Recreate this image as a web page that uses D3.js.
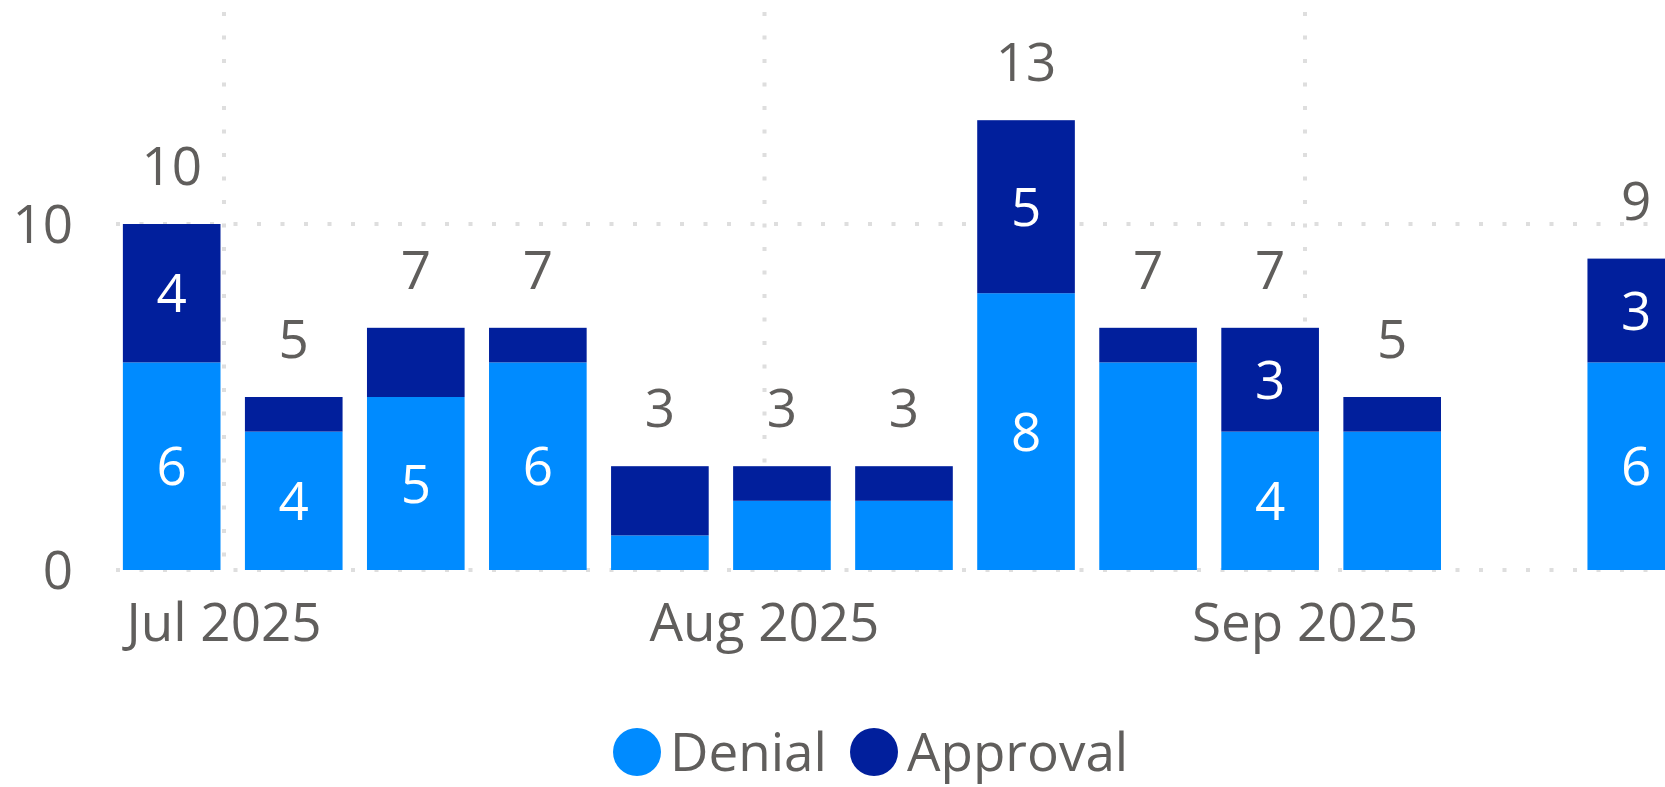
<!DOCTYPE html>
<html>
<head>
<meta charset="utf-8">
<script src="https://cdn.jsdelivr.net/npm/d3@7"></script>
<style>
    html, body { margin: 0; padding: 0; background: #fff; overflow: hidden; }
    text { font-family: "Open Sans", "Noto Sans", sans-serif; }
</style>
</head>
<body>
<div id="chart"></div>
<script>
// weekly counts, one bar per week (no data for the week of Sep 13)
const weeks = ["2025-06-28", "2025-07-05", "2025-07-12", "2025-07-19", "2025-07-26", "2025-08-02",
    "2025-08-09", "2025-08-16", "2025-08-23", "2025-08-30", "2025-09-06", "2025-09-20"];
const denial = [6, 4, 5, 6, 1, 2, 2, 8, 6, 4, 4, 6];
const approval = [4, 1, 2, 1, 2, 1, 1, 5, 1, 3, 1, 3];
const seriesNames = ["Denial", "Approval"];
const yTicks = [0, 10];
const monthTicks = ["2025-07-01", "2025-08-01", "2025-09-01"];
// segment labels Power BI dropped although they would fit
const hiddenDenialLabels = ["2025-08-23", "2025-09-06"];

const width = 1665,
    height = 787,
    colours = { Denial: "#008BFF", Approval: "#011F9C" },
    textColour = "#605E5C",
    fontSize = 53,
    parse = d3.timeParse("%Y-%m-%d");

const rows = weeks.map((w, i) => ({
    date: parse(w),
    key: w,
    Denial: denial[i],
    Approval: approval[i],
}));

const svg = d3.select("#chart").append("svg")
    .attr("width", width)
    .attr("height", height)
    .attr("viewBox", `0 0 ${width} ${height}`);

const xAxis = d3.scaleTime()
    .domain([parse(monthTicks[0]), parse(monthTicks[2])])
    .range([224, 1305]);
const yAxis = d3.scaleLinear()
    .domain([0, 16])
    .range([570, 16.4]);

const barWidth = (xAxis(d3.timeDay.offset(rows[0].date, 7)) - xAxis(rows[0].date)) * 0.8;

// gridlines
const grid = svg.append("g").attr("class", "grid")
    .attr("stroke", "#dedede")
    .attr("stroke-width", 4)
    .attr("stroke-dasharray", "4,19.5");

grid.selectAll("line.h")
    .data(yTicks)
    .enter()
    .append("line")
    .attr("class", "h")
    .attr("x1", 116)
    .attr("x2", width)
    .attr("y1", d => yAxis(d))
    .attr("y2", d => yAxis(d));

grid.selectAll("line.v")
    .data(monthTicks.map(parse))
    .enter()
    .append("line")
    .attr("class", "v")
    .attr("x1", d => xAxis(d))
    .attr("x2", d => xAxis(d))
    .attr("y1", 12)
    .attr("y2", yAxis(0));

// stacked bars
const stacked = d3.stack().keys(seriesNames)(rows);

const layers = svg.append("g")
    .selectAll("g")
    .data(stacked)
    .enter()
    .append("g")
    .attr("fill", d => colours[d.key]);

layers.selectAll("rect")
    .data(d => d)
    .enter()
    .append("rect")
    .attr("x", d => xAxis(d.data.date) - barWidth / 2)
    .attr("width", barWidth)
    .attr("y", d => yAxis(d[1]))
    .attr("height", d => yAxis(d[0]) - yAxis(d[1]));

// labels inside the segments
const segLabels = [];
stacked.forEach(layer => {
    layer.forEach(d => {
        const v = d[1] - d[0];
        if (v < 3) return;
        if (layer.key === "Denial" && hiddenDenialLabels.includes(d.data.key)) return;
        segLabels.push({ x: d.data.date, y: (d[0] + d[1]) / 2, v });
    });
});

svg.append("g")
    .attr("fill", "#fff")
    .attr("font-size", fontSize)
    .attr("text-anchor", "middle")
    .selectAll("text")
    .data(segLabels)
    .enter()
    .append("text")
    .attr("x", d => xAxis(d.x))
    .attr("y", d => yAxis(d.y))
    .attr("dy", "0.36em")
    .text(d => d.v);

// totals above the bars
svg.append("g")
    .attr("fill", textColour)
    .attr("font-size", fontSize)
    .attr("text-anchor", "middle")
    .selectAll("text")
    .data(rows)
    .enter()
    .append("text")
    .attr("x", d => xAxis(d.date))
    .attr("y", d => yAxis(d.Denial + d.Approval) - 58)
    .attr("dy", "0.36em")
    .text(d => d.Denial + d.Approval);

// y axis labels
svg.append("g")
    .attr("fill", textColour)
    .attr("font-size", fontSize)
    .attr("text-anchor", "end")
    .selectAll("text")
    .data(yTicks)
    .enter()
    .append("text")
    .attr("x", 73)
    .attr("y", d => yAxis(d))
    .attr("dy", "0.36em")
    .text(d => d);

// x axis labels
const monthFormat = d3.timeFormat("%b %Y");
svg.append("g")
    .attr("fill", textColour)
    .attr("font-size", fontSize)
    .attr("text-anchor", "middle")
    .selectAll("text")
    .data(monthTicks.map(parse))
    .enter()
    .append("text")
    .attr("x", d => xAxis(d))
    .attr("y", 641)
    .text(d => monthFormat(d));

// legend
const legendX = [637, 874];
const legend = svg.append("g")
    .selectAll("g")
    .data(seriesNames)
    .enter()
    .append("g")
    .attr("transform", (d, i) => `translate(${legendX[i]},752)`);

legend.append("circle")
    .attr("r", 24)
    .attr("fill", d => colours[d]);

legend.append("text")
    .attr("x", 33)
    .attr("dy", "0.36em")
    .attr("font-size", fontSize)
    .attr("fill", textColour)
    .text(d => d);
</script>
</body>
</html>
